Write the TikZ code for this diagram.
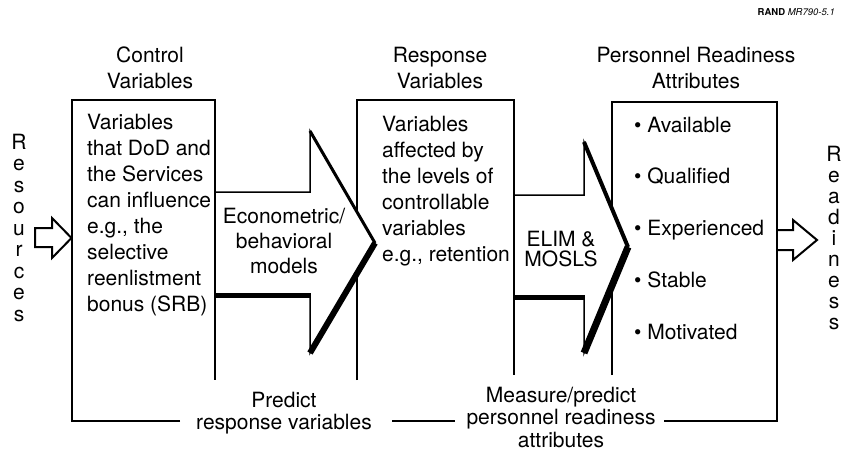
\documentclass[tikz,border=0pt]{standalone}
\usepackage{fontspec}
\setmainfont{TeX Gyre Heros}
\newcommand\myfirstln{\rule{0pt}{16pt}}
\begin{document}
\begin{tikzpicture}[x=1pt,y=-1pt,line join=miter,
  box/.style={line width=1.6pt},
  arrowline/.style={line width=1.5pt},
  smallarrow/.style={line width=2pt},
  txt/.style={inner sep=0pt,font=\fontsize{21}{26}\selectfont},
  tighttxt/.style={inner sep=0pt,font=\fontsize{21}{22.5}\selectfont},
  elimtxt/.style={inner sep=0pt,font=\fontsize{21}{20}\selectfont},
  econtxt/.style={inner sep=0pt,font=\fontsize{21}{25}\selectfont}]
\useasboundingbox (0,0) rectangle (843,452);

% ---------- frame corners ----------
\coordinate (fBL) at (72,421);
\coordinate (fBR) at (777,421);

% ---------- boxes ----------
\draw[box] (180,421) -- (fBL) -- (72,100) -- (215,100) -- (215,380);
\draw[box] (357,380) -- (357,100) -- (514,100) -- (514,375);
\draw[box] (612,375) -- (612,102) -- (777,102) -- (fBR) -- (664,421);
\draw[box] (392,421) -- (455,421);

% ---------- big arrow 1 ----------
\fill[white] (216.2,192) -- (310,192) -- (310,131) -- (375,243) -- (310,353) -- (310,295) -- (216.2,295) -- cycle;
\draw[arrowline] (215,192) -- (310,192) -- (310,131) -- (375,243) -- (310,353) -- (310,295) -- (215,295);
\draw[line width=5pt] (215,295.5) -- (311,295.5);
\draw[line width=3pt] (310,131) -- (375,243);
\draw[line width=6pt] (375,243) -- (310,353);

% ---------- big arrow 2 ----------
\fill[white] (515.2,195) -- (584,195) -- (584,142) -- (628,247) -- (584,353) -- (584,297) -- (515.2,297) -- cycle;
\draw[arrowline] (514,195) -- (584,195) -- (584,142) -- (628,247) -- (584,353) -- (584,297) -- (514,297);
\draw[line width=5pt] (514,297.5) -- (585,297.5);
\draw[line width=4pt] (584,142) -- (628,247);
\draw[line width=7pt] (628,247) -- (584,353);

% ---------- small arrows ----------
\draw[smallarrow] (35,228) -- (52,228) -- (52,218) -- (71.5,238) -- (52,258) -- (52,247) -- (35,247) -- cycle;
\draw[smallarrow] (777,230) -- (793,230) -- (793,220) -- (817,240) -- (793,260) -- (793,250) -- (777,250);

% ---------- titles ----------
\node[txt,anchor=north,align=center] (t1) at (150,62-16) {\myfirstln Control\\Variables};
\node[txt,anchor=north,align=center] (t2) at (440,62-16) {\myfirstln Response\\Variables};
\node[txt,anchor=north,align=center] (t3) at (696,62-16) {\myfirstln Personnel Readiness\\Attributes};

% ---------- box texts ----------
\node[txt,anchor=north west,align=left] (ctext) at (87,129-16)
  {\myfirstln Variables\\that DoD and\\the Services\\can influence\\e.g., the\\selective\\reenlistment\\bonus (SRB)};
\node[txt,anchor=north west,align=left] (rtext) at (382,131.5-16)
  {\myfirstln Variables\\affected by\\the levels of\\controllable\\variables\\e.g., retention};
\foreach \t [count=\i from 0] in {Available,Qualified,Experienced,Stable,Motivated}
  \node[txt,anchor=base west] (b\i) at (634,132+51.75*\i) {\textbullet\ \t};

% ---------- arrow texts ----------
\node[econtxt,anchor=north,align=center] (econ) at (284,223-16) {\myfirstln Econometric/\\behavioral\\models};
\node[elimtxt,anchor=north,align=center] (elim) at (561,246.7-16) {\myfirstln ELIM \&\\MOSLS};

% ---------- bottom texts ----------
\node[tighttxt,anchor=north,align=center] (pred) at (284,407-16) {\myfirstln Predict\\response variables};
\node[tighttxt,anchor=north,align=center] (meas) at (561,402-16) {\myfirstln Measure/predict\\personnel readiness\\attributes};

% ---------- vertical words ----------
\foreach \c [count=\i from 0] in {R,e,s,o,u,r,c,e,s}
  \node[txt,anchor=base] (res\i) at (19,149+21.5*\i) {\c};
\foreach \c [count=\i from 0] in {R,e,a,d,i,n,e,s,s}
  \node[txt,anchor=base] (rdy\i) at (834,161+21.1*\i) {\c};

% ---------- label ----------
\node[inner sep=0pt,anchor=base east,font=\fontsize{9.5}{11}\selectfont] (rand) at (835,16) {\textbf{RAND} \textit{MR790-5.1}};
\end{tikzpicture}
\end{document}
